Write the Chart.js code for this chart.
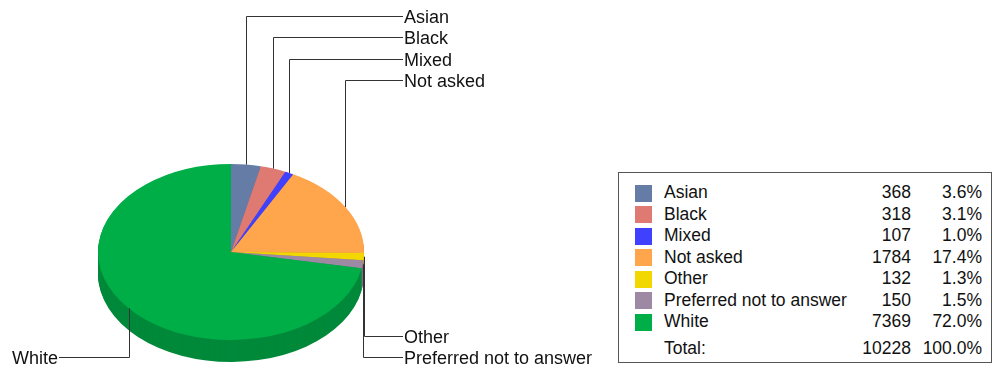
<!DOCTYPE html>
<html>
<head>
<meta charset="utf-8">
<title>Ethnicity</title>
<script src="https://cdn.jsdelivr.net/npm/chart.js@4/dist/chart.umd.min.js"></script>
<style>
  html, body { margin: 0; padding: 0; background: #fff; }
  #wrap { position: relative; width: 995px; height: 366px; overflow: hidden;
          font-family: "Liberation Sans", Arial, Helvetica, sans-serif; color: #111; }
  #pie { position: absolute; left: 0; top: 0; }
  #legend { position: absolute; left: 618px; top: 172px; width: 372px; height: 189px;
            border: 1px solid #555; background: #fff; font-size: 17.5px; }
  #legend .row { position: absolute; left: 0; right: 0; height: 21.5px; line-height: 21.5px; white-space: nowrap; }
  #legend .sw { position: absolute; left: 16px; top: 2.5px; width: 17px; height: 17px; }
  #legend .nm { position: absolute; left: 45px; }
  #legend .ct { position: absolute; right: 80px; text-align: right; }
  #legend .pc { position: absolute; right: 9px; text-align: right; }
</style>
</head>
<body>
<div id="wrap">
  <canvas id="pie" width="995" height="366"></canvas>
  <div id="legend"></div>
</div>
<script>
// Respondents by ethnicity
const categories = ['Asian', 'Black', 'Mixed', 'Not asked', 'Other', 'Preferred not to answer', 'White'];
const counts     = [368, 318, 107, 1784, 132, 150, 7369];
const faceColors = ['#647CA6', '#DF7A72', '#4040FF', '#FFA64D', '#F2D700', '#9D89A3', '#00AE47'];
const sideColors = ['#4E6285', '#B5615A', '#3030CC', '#CC843C', '#C2AC00', '#7D6D82', '#00893A'];
const totalLabel = 'Total:';

// 3D look: vertical squash of the disc and thickness of the rim
const TILT = 88 / 133;
const DEPTH = 22;
const FACE_Y = 252;

// Callout layout
const LABEL_X = 404;          // text start for right-hand callouts
const TOP_SLOT_Y = 16;        // first callout line above the pie
const SLOT_GAP = 21.3;
const BOTTOM_SLOT_Y = 357;    // lowest callout line below the pie
const LEFT_LINE_END = 60;

function faceTransform(ctx, arc) {
  ctx.translate(arc.x, FACE_Y);
  ctx.scale(1, TILT);
  ctx.translate(-arc.x, -arc.y);
}

function wedge(ctx, a) {
  ctx.beginPath();
  ctx.moveTo(a.x, a.y);
  ctx.arc(a.x, a.y, a.outerRadius, a.startAngle, a.endAngle);
  ctx.closePath();
}

const pie3d = {
  id: 'pie3d',
  beforeDatasetsDraw(chart) {
    const ctx = chart.ctx;
    const arcs = chart.getDatasetMeta(0).data;
    // rim: darker copies of the wedges stacked under the face
    for (let k = DEPTH; k >= 1; k--) {
      ctx.save();
      ctx.translate(0, k);
      faceTransform(ctx, arcs[0]);
      arcs.forEach((a, i) => {
        wedge(ctx, a);
        ctx.fillStyle = sideColors[i];
        ctx.fill();
      });
      ctx.restore();
    }
    // face: the chart's own wedges, squashed into an ellipse
    ctx.save();
    faceTransform(ctx, arcs[0]);
  },
  afterDatasetsDraw(chart) {
    const ctx = chart.ctx;
    ctx.restore();
    const arcs = chart.getDatasetMeta(0).data;
    const upper = [], lowerRight = [], left = [];
    arcs.forEach((a, i) => {
      const mid = (a.startAngle + a.endAngle) / 2;
      const px = a.x + a.outerRadius * Math.cos(mid);
      const py = FACE_Y + a.outerRadius * TILT * Math.sin(mid);
      const item = { i, px, py };
      if (Math.cos(mid) < 0) left.push(item);
      else if (Math.sin(mid) < 0) upper.push(item);
      else lowerRight.push(item);
    });
    upper.forEach((it, n) => { it.ly = TOP_SLOT_Y + n * SLOT_GAP; });
    lowerRight.forEach((it, n) => { it.ly = BOTTOM_SLOT_Y - (lowerRight.length - 1 - n) * SLOT_GAP; });
    left.forEach((it, n) => { it.ly = BOTTOM_SLOT_Y - n * SLOT_GAP; });

    ctx.save();
    ctx.strokeStyle = '#333';
    ctx.lineWidth = 1;
    ctx.fillStyle = '#111';
    ctx.font = '18px "Liberation Sans", Arial, sans-serif';
    ctx.textBaseline = 'alphabetic';
    const crisp = v => Math.round(v) + 0.5;
    [...upper, ...lowerRight].forEach(it => {
      const x = crisp(it.px), y = crisp(it.ly);
      ctx.beginPath();
      ctx.moveTo(x, it.py);
      ctx.lineTo(x, y);
      ctx.lineTo(LABEL_X - 1, y);
      ctx.stroke();
      ctx.textAlign = 'left';
      ctx.fillText(categories[it.i], LABEL_X, y + 6.5);
    });
    left.forEach(it => {
      const x = crisp(it.px), y = crisp(it.ly);
      ctx.beginPath();
      ctx.moveTo(x, it.py);
      ctx.lineTo(x, y);
      ctx.lineTo(LEFT_LINE_END - 1, y);
      ctx.stroke();
      ctx.textAlign = 'right';
      ctx.fillText(categories[it.i], LEFT_LINE_END - 2, y + 6.5);
    });
    ctx.restore();
  }
};

new Chart(document.getElementById('pie'), {
  type: 'pie',
  data: {
    labels: categories,
    datasets: [{
      data: counts,
      backgroundColor: faceColors,
      borderWidth: 0,
      clip: false
    }]
  },
  options: {
    responsive: false,
    devicePixelRatio: 1,
    animation: false,
    layout: { padding: { left: 98, right: 631, top: 50, bottom: 50 } },
    plugins: { legend: { display: false }, tooltip: { enabled: false } }
  },
  plugins: [pie3d]
});

// Summary table beside the pie
const total = counts.reduce((s, v) => s + v, 0);
const legend = document.getElementById('legend');
function addRow(top, name, count, pct, color) {
  const row = document.createElement('div');
  row.className = 'row';
  row.style.top = top + 'px';
  if (color) {
    const sw = document.createElement('span');
    sw.className = 'sw';
    sw.style.background = color;
    row.appendChild(sw);
  }
  [['nm', name], ['ct', String(count)], ['pc', pct + '%']].forEach(([cls, txt]) => {
    const s = document.createElement('span');
    s.className = cls;
    s.textContent = txt;
    row.appendChild(s);
  });
  legend.appendChild(row);
}
categories.forEach((name, i) => {
  addRow(9.25 + i * 21.5, name, counts[i], (counts[i] / total * 100).toFixed(1), faceColors[i]);
});
addRow(165.25, totalLabel, total, (100).toFixed(1), null);
</script>
</body>
</html>
